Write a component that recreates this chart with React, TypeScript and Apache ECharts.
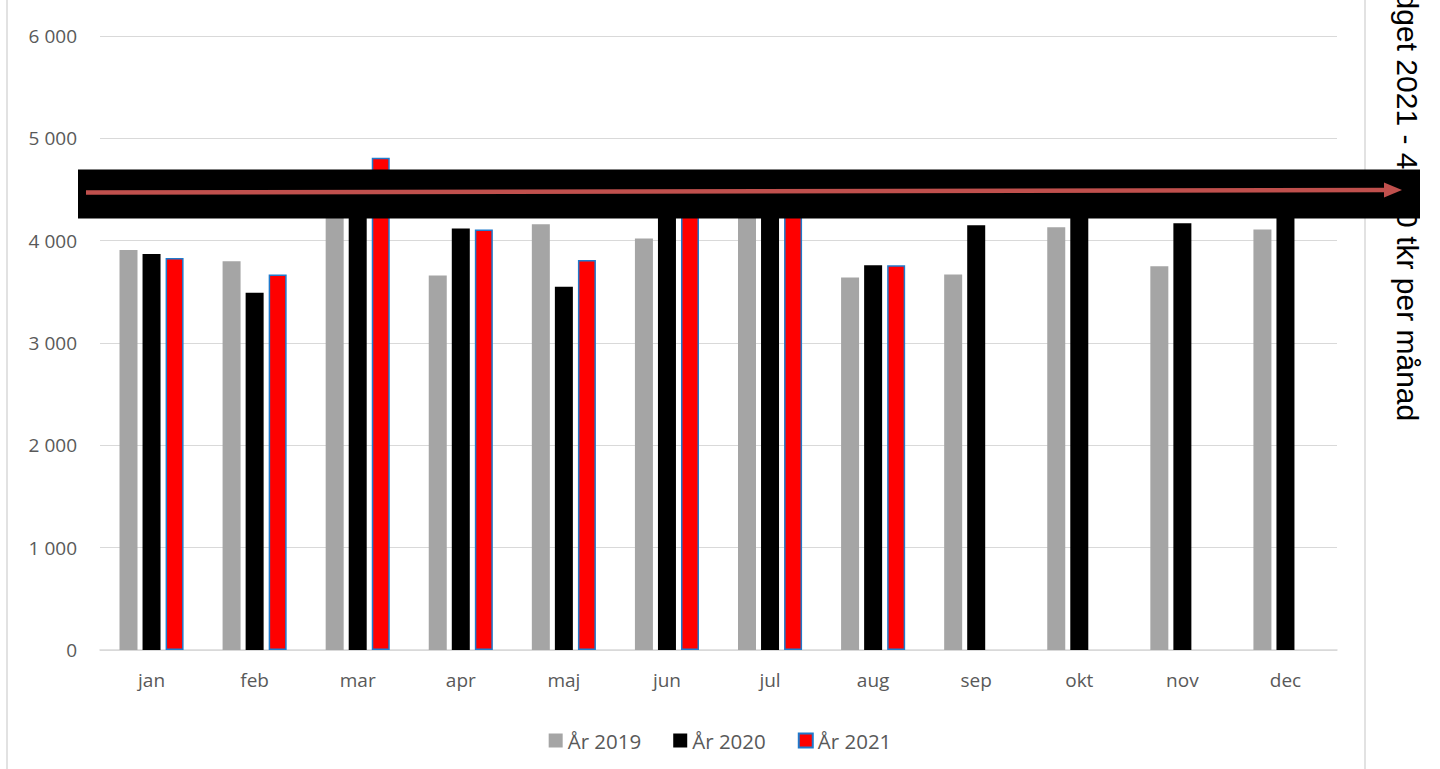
import React, { useEffect, useRef } from "react";
import * as echarts from "echarts";

const months = ["jan", "feb", "mar", "apr", "maj", "jun", "jul", "aug", "sep", "okt", "nov", "dec"];
const y2019 = [3910, 3800, 4300, 3660, 4160, 4020, 4260, 3640, 3670, 4130, 3750, 4110];
const y2020 = [3870, 3490, 4450, 4120, 3550, 4350, 4600, 3760, 4150, 4400, 4170, 4350];
const y2021: (number | null)[] = [3830, 3670, 4810, 4110, 3810, 4500, 4300, 3760, null, null, null, null];
const budgetValue = 4470;
const budgetText = "Budget 2021 - 4 450 tkr per månad";
const seriesNames = ["År 2019", "År 2020", "År 2021"];

export default function App() {
  const ref = useRef<HTMLDivElement>(null);
  useEffect(() => {
    if (!ref.current) return;
    const chart = echarts.init(ref.current, undefined, { renderer: "svg" });
    const labelFont = "'Open Sans', sans-serif";
    chart.setOption({
      animation: false,
      backgroundColor: "#ffffff",
      grid: { left: 100, right: 103, top: 36, bottom: 119, containLabel: false },
      legend: {
        bottom: 13,
        left: "center",
        itemWidth: 14,
        itemHeight: 14,
        itemGap: 32,
        icon: "rect",
        textStyle: { color: "#595959", fontSize: 20.5, fontFamily: labelFont },
        data: seriesNames,
      },
      xAxis: {
        type: "category",
        data: months,
        axisTick: { show: false },
        axisLine: { lineStyle: { color: "#D9D9D9", width: 1.5 } },
        axisLabel: { color: "#595959", fontSize: 19, fontFamily: labelFont, margin: 20 },
      },
      yAxis: {
        type: "value",
        min: 0,
        max: 6000,
        interval: 1000,
        axisLine: { show: false },
        axisTick: { show: false },
        splitLine: { lineStyle: { color: "#D9D9D9", width: 1 } },
        axisLabel: {
          color: "#595959",
          fontSize: 19,
          fontFamily: labelFont,
          margin: 23,
          formatter: (v: number) => (v >= 1000 ? Math.floor(v / 1000) + " " + String(v % 1000).padStart(3, "0") : String(v)),
        },
      },
      series: [
        {
          name: seriesNames[0],
          type: "bar",
          data: y2019,
          barWidth: 18,
          barGap: "28%",
          itemStyle: { color: "#A5A5A5" },
        },
        {
          name: seriesNames[1],
          type: "bar",
          data: y2020,
          barWidth: 18,
          barGap: "28%",
          itemStyle: { color: "#000000" },
        },
        {
          name: seriesNames[2],
          type: "bar",
          data: y2021,
          barWidth: 18,
          barGap: "28%",
          itemStyle: { color: "#FF0000", borderColor: "#1F7ACC", borderWidth: 1.5 },
        },
      ],
    });

    const by = chart.convertToPixel({ yAxisIndex: 0 }, budgetValue) as number;
    chart.setOption({
      graphic: [
        { type: "line", shape: { x1: 7, y1: 0, x2: 7, y2: 769 }, style: { stroke: "#D9D9D9", lineWidth: 1.5 }, z: 1 },
        { type: "line", shape: { x1: 1365, y1: 0, x2: 1365, y2: 769 }, style: { stroke: "#D9D9D9", lineWidth: 1.5 }, z: 1 },
        {
          type: "text",
          x: 1407,
          y: by - 4,
          rotation: -Math.PI / 2,
          style: {
            text: budgetText,
            fill: "#000000",
            font: "30px 'Liberation Sans', Arial, sans-serif",
            align: "center",
            verticalAlign: "middle",
          },
          z: 50,
        },
        { type: "rect", shape: { x: 78, y: by - 23, width: 1342, height: 49 }, style: { fill: "#000000" }, z: 100 },
        {
          type: "line",
          shape: { x1: 86, y1: by, x2: 1386, y2: by - 2.5 },
          style: { stroke: "#C0504D", lineWidth: 4.5 },
          z: 101,
        },
        {
          type: "polygon",
          shape: { points: [[1384, by - 10], [1402, by - 2.5], [1384, by + 5]] },
          style: { fill: "#C0504D" },
          z: 101,
        },
      ],
    });
    return () => chart.dispose();
  }, []);
  return <div ref={ref} style={{ position: "fixed", left: 0, top: 0, width: 1440, height: 769 }} />;
}
